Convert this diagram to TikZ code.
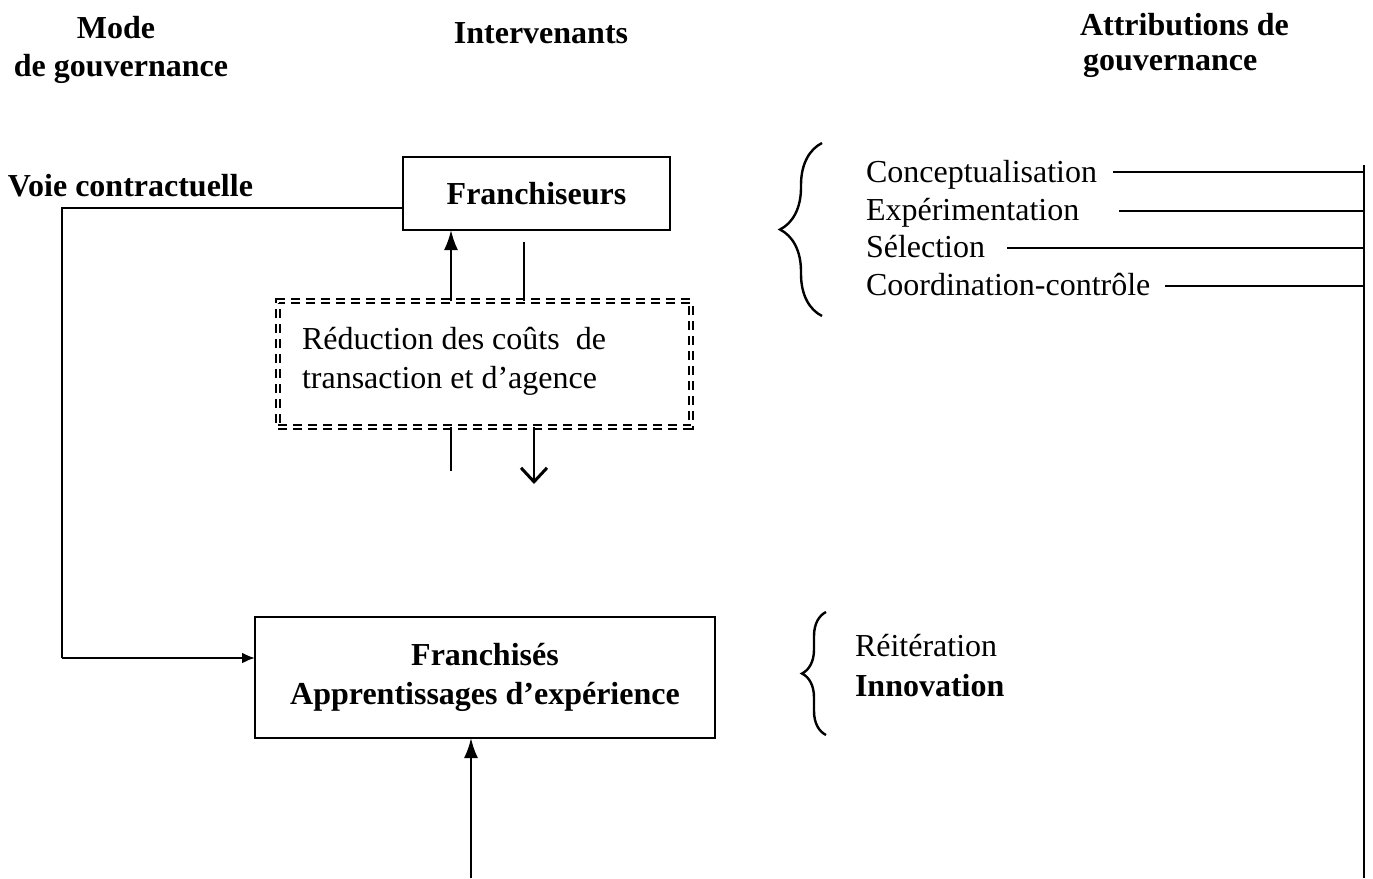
\documentclass[tikz,border=0pt]{standalone}
\usepackage{fontspec}
\setmainfont{Liberation Serif}
\usetikzlibrary{arrows.meta,decorations.pathreplacing}
\begin{document}
\begin{tikzpicture}[x=1pt,y=-1pt,
  every node/.style={inner sep=0pt,outer sep=0pt,font=\fontsize{32}{38}\selectfont},
  lbl/.style={anchor=base west},
  boldtext/.style={font=\fontsize{32}{38}\selectfont\bfseries},
  head/.style={anchor=base,boldtext},
  boxnode/.style={draw,line width=2.2pt,align=center},
  dashbox/.style={draw,line width=1.8pt,double distance=2.2pt,dash pattern=on 9pt off 6pt},
  wire/.style={line width=2.2pt},
  upto/.style={wire,-{Latex[length=20pt,width=14pt]}},
  smallto/.style={wire,-{Latex[length=13pt,width=11pt]}},
  barbto/.style={wire,-{Straight Barb[length=14pt,width=26pt,line width=3pt]}},
  bracestyle/.style={line width=2.4pt,decorate}
]
\useasboundingbox (0,0) rectangle (1373,878);

% column headings
\node[head] (h1) at (116,38) {Mode};
\node[head] (h2) at (121,76) {de gouvernance};
\node[head] (h3) at (541,43) {Intervenants};
\node[head,anchor=base west] (h4) at (1080,35) {Attributions de};
\node[head,anchor=base west] (h5) at (1083,70) {gouvernance};

% governance mode
\node[lbl,boldtext] (vc) at (8,196) {Voie contractuelle};

% actors
\node[boxnode,minimum width=267pt,minimum height=73pt,boldtext] (fr) at (536.5,193.5) {Franchiseurs};
\node[dashbox,minimum width=413pt,minimum height=126pt] (rd) at (484.5,364) {};
\node[anchor=base west] (rdt) at (302,349) {Réduction des coûts\ \ de};
\node[anchor=base west] (rdt2) at (302,388) {transaction et d’agence};
\node[boxnode,minimum width=460pt,minimum height=121pt,font=\fontsize{32}{39}\selectfont\bfseries] (fe) at (485,677.5) {Franchisés\\Apprentissages d’expérience};

% helper coordinates
\coordinate (xa) at (451,0);
\coordinate (xb) at (524,0);
\coordinate (xc) at (534,0);
\coordinate (xd) at (471,0);
\coordinate (ya) at (0,208);
\coordinate (yb) at (0,658);
\coordinate (corner) at (62,208);
\coordinate (bottom) at (471,878);
\coordinate (rtop) at (1364,165);
\coordinate (rbot) at (1364,878);

% contractual path
\draw[wire] (fr.west |- ya) -- (corner) -- (corner |- yb);
\draw[smallto] (corner |- yb) -- (fe.west |- yb);

% links around the cost-reduction box
\draw[upto] (rd.north -| xa) -- (fr.south -| xa);
\draw[wire] (rd.north -| xb) -- ++(0,-59);
\draw[wire] (rd.south -| xa) -- ++(0,44);
\draw[barbto] (rd.south -| xc) -- ++(0,57);

% arrow into the franchisees box
\draw[upto] (bottom) -- (fe.south -| xd);

% attributions
\draw[bracestyle,decoration={brace,amplitude=42pt,aspect=0.5}] (822,316) -- (822,143);
\node[lbl] (a1) at (866,182) {Conceptualisation};
\node[lbl] (a2) at (866,220) {Expérimentation};
\node[lbl] (a3) at (866,257) {Sélection};
\node[lbl] (a4) at (866,295) {Coordination-contrôle};

\draw[wire] (rtop) -- (rbot);
\draw[wire] ([xshift=16pt]a1.east |- 0,172) -- (rtop |- 0,172);
\draw[wire] ([xshift=40pt]a2.east |- 0,211) -- (rtop |- 0,211);
\draw[wire] ([xshift=22pt]a3.east |- 0,248) -- (rtop |- 0,248);
\draw[wire] ([xshift=15pt]a4.east |- 0,286) -- (rtop |- 0,286);

\draw[bracestyle,decoration={brace,amplitude=24pt,aspect=0.5}] (826,735) -- (826,612);
\node[lbl] (b1) at (855,656) {Réitération};
\node[lbl,boldtext] (b2) at (855,696) {Innovation};
\end{tikzpicture}
\end{document}
